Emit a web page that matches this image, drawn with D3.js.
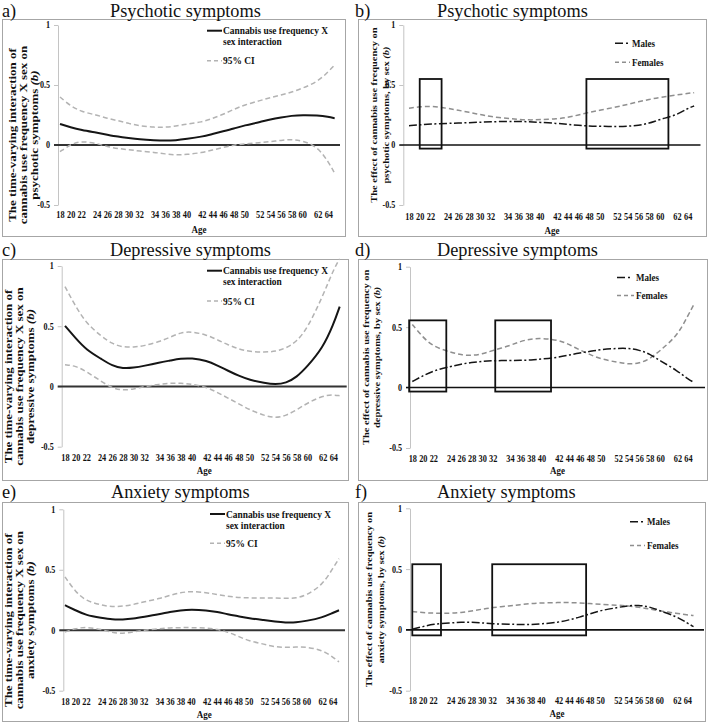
<!DOCTYPE html>
<html><head><meta charset="utf-8">
<script src="https://cdn.jsdelivr.net/npm/d3@7"></script>
<style>
body{margin:0;background:#fff}
svg{display:block}
text{font-family:"Liberation Serif","Times New Roman",serif;fill:#111}
</style>
</head><body>
<svg id="chart" width="709" height="725"></svg>
<script>
// ---------- DATA ----------
const ages = [18,20,22,24,26,28,30,32,34,36,38,40,42,44,46,48,50,52,54,56,58,60,62,64,65];
const tickAges = [18,20,22,24,26,28,30,32,34,36,38,40,42,44,46,48,50,52,54,56,58,60,62,64];
const tickGroupStarts = [24,34,42,52,62];
const yTicks = [-0.5,0,0.5,1];

// a) Psychotic – interaction
const psyInter = [0.175,0.147,0.125,0.103,0.086,0.069,0.058,0.047,0.039,0.036,0.039,0.05,0.069,0.092,0.114,0.136,0.164,0.19,0.214,0.23,0.244,0.25,0.247,0.236,0.222];
const psyUpper = [0.40,0.325,0.278,0.25,0.222,0.203,0.18,0.16,0.147,0.147,0.158,0.175,0.19,0.222,0.255,0.297,0.333,0.37,0.394,0.417,0.44,0.472,0.528,0.61,0.667];
const psyLower = [-0.056,0.006,0.033,0.014,-0.014,-0.03,-0.039,-0.05,-0.061,-0.075,-0.083,-0.08,-0.064,-0.042,-0.02,0,0.008,0.02,0.028,0.039,0.047,0.036,-0.014,-0.14,-0.236];
// b) Psychotic – by sex
const psyMales   = [0.161,0.169,0.175,0.18,0.183,0.186,0.19,0.194,0.196,0.197,0.194,0.189,0.18,0.172,0.164,0.158,0.156,0.153,0.156,0.164,0.18,0.214,0.25,0.306,0.325];
const psyFemales = [0.306,0.319,0.325,0.306,0.29,0.272,0.254,0.236,0.222,0.214,0.208,0.211,0.217,0.23,0.25,0.272,0.29,0.317,0.339,0.36,0.38,0.397,0.417,0.43,0.436];
const psyBoxes = [[20,23.3],[47.5,61]];
const psyBoxRange = [-0.03,0.55];
// c) Depressive – interaction
const depInter = [0.503,0.4,0.304,0.227,0.171,0.149,0.155,0.171,0.199,0.215,0.232,0.235,0.215,0.174,0.13,0.088,0.055,0.028,0.017,0.028,0.077,0.166,0.318,0.511,0.663];
const depUpper = [0.829,0.663,0.525,0.414,0.354,0.326,0.326,0.337,0.373,0.409,0.448,0.456,0.428,0.387,0.345,0.31,0.29,0.285,0.29,0.318,0.373,0.483,0.746,0.967,1.06];
const depLower = [0.18,0.171,0.124,0.041,-0.014,-0.033,-0.022,0,0.019,0.028,0.028,0.019,-0.006,-0.05,-0.097,-0.144,-0.193,-0.243,-0.262,-0.243,-0.193,-0.138,-0.077,-0.069,-0.077];
// d) Depressive – by sex
const depMales   = [0.05,0.097,0.139,0.175,0.194,0.208,0.217,0.222,0.225,0.225,0.228,0.236,0.25,0.27,0.286,0.3,0.314,0.325,0.325,0.311,0.278,0.222,0.139,0.069,0.042];
const depFemales = [0.522,0.417,0.339,0.292,0.27,0.264,0.278,0.306,0.347,0.383,0.403,0.408,0.394,0.356,0.311,0.272,0.236,0.208,0.194,0.2,0.236,0.306,0.43,0.597,0.694];
const depBoxes = [[17.4,23.5],[32.3,41.1]];
const depBoxRange = [-0.033,0.556];
// e) Anxiety – interaction
const anxInter = [0.207,0.165,0.124,0.102,0.088,0.088,0.096,0.11,0.132,0.152,0.165,0.171,0.165,0.152,0.132,0.116,0.099,0.083,0.072,0.063,0.063,0.077,0.105,0.143,0.165];
const anxUpper = [0.441,0.317,0.242,0.207,0.193,0.198,0.212,0.234,0.262,0.289,0.311,0.322,0.311,0.295,0.281,0.27,0.267,0.267,0.267,0.264,0.264,0.289,0.372,0.51,0.592];
const anxLower = [-0.014,0.014,0.028,0.006,-0.019,-0.028,-0.014,0,0.014,0.019,0.022,0.022,0.019,0.008,-0.014,-0.05,-0.088,-0.116,-0.138,-0.143,-0.138,-0.138,-0.165,-0.22,-0.262];
// f) Anxiety – by sex
const anxMales   = [0.005,0.027,0.047,0.058,0.063,0.063,0.058,0.049,0.047,0.044,0.044,0.049,0.063,0.082,0.104,0.132,0.159,0.184,0.2,0.203,0.192,0.159,0.11,0.055,0.027];
const anxFemales = [0.151,0.142,0.137,0.137,0.142,0.156,0.17,0.184,0.197,0.208,0.216,0.222,0.225,0.225,0.222,0.216,0.211,0.203,0.197,0.186,0.173,0.156,0.137,0.123,0.118];
const anxBoxes = [[18,22.9],[32,47.3]];
const anxBoxRange = [-0.045,0.54];

const interLegend = ["Cannabis use frequency X","sex interaction"];
const ciLegend = "95% CI";
const sexLegend = ["Males","Females"];
const xTitle = "Age";

// ---------- LAYOUT ----------
const panels = [
 {letter:"a)", title:"Psychotic symptoms", kind:"inter", series:[psyInter,psyUpper,psyLower],
  ytitle:["The time-varying interaction of","cannabis use frequency X sex on","psychotic symptoms "],
  frame:[2,19,345,236], x18:60, x64:328.3, gap:1.45, axisX:58, zeroEnd:340, yTop:25, yBot:205,
  titleX:110, titleY:16.5, letterX:2, tickDy:13, ageY:233, ytX:[15.5,27,38], ytFont:10.8,
  leg:{x:207, y1:30.7, t1:34, t2:45, y2:60.7, t3:64}},
 {letter:"b)", title:"Psychotic symptoms", kind:"sex", series:[psyMales,psyFemales], boxes:psyBoxes, boxRange:psyBoxRange,
  ytitle:["The effect of cannabis use frequency on","psychotic symptoms, by sex "],
  frame:[358,19,706,236], x18:409, x64:687.7, gap:1.6, axisX:403.3, zeroEnd:700.5, yTop:25, yBot:205,
  titleX:437, titleY:16.5, letterX:355, tickDy:15, ageY:233.5, ytX:[377,388.7], ytFont:8.7,
  leg:{x:615, w:15, y1:43.3, t1:46.7, y2:62.3, t2:65.5}},
 {letter:"c)", title:"Depressive symptoms", kind:"inter", series:[depInter,depUpper,depLower],
  ytitle:["The time-varying interaction of","cannabis use frequency X sex on","depressive symptoms "],
  frame:[2,259,348,480], x18:65, x64:333.3, gap:1.43, axisX:61.7, zeroEnd:346.7, yTop:266, yBot:446.7,
  titleX:110, titleY:256, letterX:2, tickDy:14, ageY:473.5, ytX:[11.5,22.5,34], ytFont:10.8,
  leg:{x:207, y1:270.7, t1:274, t2:285, y2:301, t3:304.5}},
 {letter:"d)", title:"Depressive symptoms", kind:"sex", series:[depMales,depFemales], boxes:depBoxes, boxRange:depBoxRange,
  ytitle:["The effect of cannabis use frequency on","depressive symptoms, by sex "],
  frame:[358,259,707,480], x18:412.3, x64:688, gap:1.65, axisX:410, zeroEnd:705, yTop:266.7, yBot:448,
  titleX:437, titleY:256, letterX:355, tickDy:13.5, ageY:473.5, ytX:[368.7,380.3], ytFont:8.7,
  leg:{x:617, w:17, y1:277.5, t1:281, y2:295.5, t2:299}},
 {letter:"e)", title:"Anxiety symptoms", kind:"inter", series:[anxInter,anxUpper,anxLower],
  ytitle:["The time-varying interaction of","cannabis use frequency X sex on","anxiety symptoms "],
  frame:[2,502,348,721], x18:65, x64:332.7, gap:1.5, axisX:63.3, zeroEnd:345, yTop:509.3, yBot:690.7,
  titleX:111, titleY:497.5, letterX:2, tickDy:14.3, ageY:718, ytX:[11.5,22.5,33.5], ytFont:10.8,
  leg:{x:210, y1:514, t1:517.5, t2:528.5, y2:543.3, t3:547}},
 {letter:"f)", title:"Anxiety symptoms", kind:"sex", series:[anxMales,anxFemales], boxes:anxBoxes, boxRange:anxBoxRange,
  ytitle:["The effect of cannabis use frequency on","anxiety symptoms, by sex "],
  frame:[358,502,705,721], x18:412.3, x64:687.3, gap:1.7, axisX:410, zeroEnd:704, yTop:508.3, yBot:690.7,
  titleX:437, titleY:497.5, letterX:355, tickDy:13.6, ageY:716.5, ytX:[372,383.7], ytFont:8.7,
  leg:{x:630, w:15, y1:521.7, t1:525, y2:545.5, t2:549}}
];

const SY = 1.2; // vertical stretch of the chart texts
const svg = d3.select("#chart");

function stretchText(g, x, y, str, size, opts={}) {
  return g.append("text")
    .attr("transform", `translate(${x},${y}) scale(1,${SY})`)
    .attr("font-size", size).attr("font-weight", opts.weight || "bold")
    .attr("text-anchor", opts.anchor || "start").text(str);
}

panels.forEach(p => {
  const g = svg.append("g");
  const [fx0, fy0, fx1, fy1] = p.frame;
  g.append("rect").attr("x", fx0+0.5).attr("y", fy0+0.5).attr("width", fx1-fx0).attr("height", fy1-fy0)
    .attr("fill", "none").attr("stroke", "#a6a6a6").attr("stroke-width", 1);

  // titles
  g.append("text").attr("x", p.letterX).attr("y", p.titleY).attr("font-size", 18.3).text(p.letter);
  g.append("text").attr("x", p.titleX).attr("y", p.titleY).attr("font-size", 18.3).text(p.title);

  // scales
  let s = 0; const slots = [];
  tickAges.forEach((a, i) => { if (i > 0) s += tickGroupStarts.includes(a) ? p.gap : 1; slots.push(s); });
  const endAge = ages[ages.length-1];
  const endSlot = s + (endAge - tickAges[tickAges.length-1]) * 0.6;
  const slotScale = d3.scaleLinear().domain([0, s]).range([p.x18, p.x64]);
  const x = d3.scaleLinear().domain([...tickAges, endAge]).range([...slots, endSlot].map(slotScale));
  const y = d3.scaleLinear().domain([-0.5, 1]).range([p.yBot, p.yTop]);

  // y axis
  const ya = g.append("g").attr("transform", `translate(${p.axisX},0)`)
    .call(d3.axisLeft(y).tickValues(yTicks).tickSize(4).tickSizeOuter(0).tickPadding(4).tickFormat(d => String(d)));
  ya.select(".domain").attr("stroke", "#c4c4c4");
  ya.selectAll(".tick line").attr("stroke", "#c4c4c4");
  ya.selectAll(".tick text").attr("font-size", 8.1)
    .attr("font-weight", "bold").attr("fill", "#111").attr("transform", `scale(1,${SY})`).attr("dy", "0.3em");

  // x axis labels
  const xa = g.append("g").attr("transform", `translate(0,${y(-0.5) + p.tickDy})`)
    .call(d3.axisBottom(x).tickValues(tickAges).tickSize(0).tickPadding(0).tickFormat(d3.format("d")));
  xa.select(".domain").remove();
  xa.selectAll(".tick text").attr("font-size", 8.3)
    .attr("font-weight", "bold").attr("fill", "#111").attr("y", 0).attr("dy", 0)
    .attr("transform", `scale(1,${SY})`);

  // x title
  stretchText(g, (p.axisX + p.zeroEnd) / 2, p.ageY, xTitle, 9, {anchor: "middle"});

  // y title
  const midY = p.kind === "inter" ? y(0.083) : (p.yTop + p.yBot) / 2;
  p.ytitle.forEach((line, i) => {
    const t = g.append("text")
      .attr("transform", `translate(${p.ytX[i]},${midY}) scale(1,${SY}) rotate(-90)`)
      .attr("font-size", p.ytFont).attr("font-weight", "bold").attr("text-anchor", "middle");
    t.append("tspan").text(line);
    if (i === p.ytitle.length - 1) t.append("tspan").attr("font-style", "italic").text("(b)");
  });

  // zero line (category axis)
  g.append("line").attr("x1", p.axisX - 4).attr("x2", p.zeroEnd).attr("y1", y(0)).attr("y2", y(0))
    .attr("stroke", p.kind === "inter" ? "#333" : "#111").attr("stroke-width", p.kind === "inter" ? 2 : 1.6);

  const line = d3.line().x((d, i) => x(ages[i])).y(d => y(d)).curve(d3.curveBasis);

  const L = p.leg;
  if (p.kind === "inter") {
    const [mid, up, lo] = p.series;
    [up, lo].forEach(arr => g.append("path").attr("d", line(arr)).attr("fill", "none")
      .attr("stroke", "#b3b3b3").attr("stroke-width", 1.5).attr("stroke-dasharray", "5,3"));
    g.append("path").attr("d", line(mid)).attr("fill", "none").attr("stroke", "#151515").attr("stroke-width", 2);
    // legend
    g.append("line").attr("x1", L.x).attr("x2", L.x + 15).attr("y1", L.y1).attr("y2", L.y1)
      .attr("stroke", "#151515").attr("stroke-width", 2);
    stretchText(g, L.x + 16, L.t1, interLegend[0], 9.4);
    stretchText(g, L.x + 16, L.t2, interLegend[1], 9.4);
    g.append("line").attr("x1", L.x).attr("x2", L.x + 15).attr("y1", L.y2).attr("y2", L.y2)
      .attr("stroke", "#b3b3b3").attr("stroke-width", 1.5).attr("stroke-dasharray", "4,3");
    stretchText(g, L.x + 16, L.t3, ciLegend, 9.4);
  } else {
    const [males, females] = p.series;
    g.append("path").attr("d", line(females)).attr("fill", "none")
      .attr("stroke", "#8f8f8f").attr("stroke-width", 1.5).attr("stroke-dasharray", "5,3");
    g.append("path").attr("d", line(males)).attr("fill", "none")
      .attr("stroke", "#151515").attr("stroke-width", 1.5).attr("stroke-dasharray", "8,2.5,2,2.5");
    p.boxes.forEach(([a0, a1]) => {
      g.append("rect").attr("x", x(a0)).attr("y", y(p.boxRange[1]))
        .attr("width", x(a1) - x(a0)).attr("height", y(p.boxRange[0]) - y(p.boxRange[1]))
        .attr("fill", "none").attr("stroke", "#111").attr("stroke-width", 1.8);
    });
    // legend
    g.append("line").attr("x1", L.x).attr("x2", L.x + L.w).attr("y1", L.y1).attr("y2", L.y1)
      .attr("stroke", "#151515").attr("stroke-width", 1.5).attr("stroke-dasharray", "8,3,2,4");
    stretchText(g, L.x + L.w + 2, L.t1, sexLegend[0], 9);
    g.append("line").attr("x1", L.x).attr("x2", L.x + L.w).attr("y1", L.y2).attr("y2", L.y2)
      .attr("stroke", "#8f8f8f").attr("stroke-width", 1.5).attr("stroke-dasharray", "4,3");
    stretchText(g, L.x + L.w + 2, L.t2, sexLegend[1], 9);
  }
});
</script>
</body></html>
